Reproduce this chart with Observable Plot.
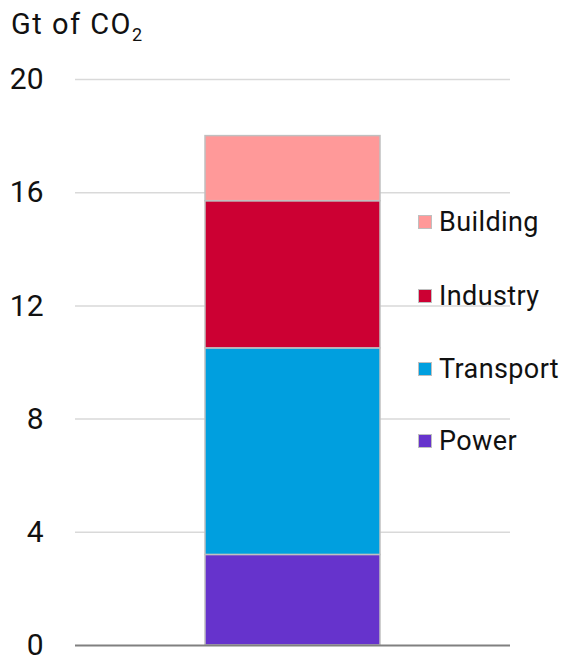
<!DOCTYPE html>
<html>
<head>
<meta charset="utf-8">
<script src="https://cdn.jsdelivr.net/npm/d3@7"></script>
<script src="https://cdn.jsdelivr.net/npm/@observablehq/plot@0.6"></script>
<style>
  body { margin: 0; background: #fff; font-family: Roboto, "Liberation Sans", sans-serif; }
  #wrap { position: relative; width: 569px; height: 657px; overflow: hidden; }
  #title { position: absolute; left: 11px; top: 7px; font-size: 29px; letter-spacing: 1.5px; color: #111; white-space: nowrap; }
  #title sub { font-size: 18px; vertical-align: -7px; line-height: 0; }
  #legend { position: absolute; left: 418px; top: 0; }
  .item { position: absolute; left: 0; display: flex; align-items: center; white-space: nowrap; font-size: 27px; letter-spacing: 0.4px; color: #111; transform: translateY(-50%); }
  .sw { width: 12px; height: 12px; border: 1.5px solid #bfbfbf; margin-right: 7px; }
</style>
</head>
<body>
<div id="wrap">
  <div id="chart"></div>
  <div id="title">Gt of CO<sub>2</sub></div>
  <div id="legend"></div>
</div>
<script>
const categories = ["2020"];
const sectors = ["Power", "Transport", "Industry", "Building"];
const values = [3.2, 7.3, 5.2, 2.3];
const colors = ["#6633cc", "#009fdf", "#cc0033", "#ff9999"];
const yTicks = [0, 4, 8, 12, 16, 20];
const legendOrder = ["Building", "Industry", "Transport", "Power"];
const legendTops = [222, 296, 369, 441];

const data = sectors.map((s, i) => ({cat: categories[0], sector: s, value: values[i]}));

const chart = Plot.plot({
  width: 569,
  height: 657,
  marginTop: 79,
  marginBottom: 12,
  marginLeft: 75,
  marginRight: 59,
  style: {fontFamily: "Roboto, 'Liberation Sans', sans-serif", fontSize: "30px", color: "#111", background: "#fff", overflow: "visible"},
  x: {domain: categories, padding: 0.426, axis: null},
  y: {domain: [0, 20], ticks: yTicks, tickSize: 0, tickPadding: 32, label: null},
  color: {domain: sectors, range: colors},
  marks: [
    Plot.ruleY(yTicks.filter(d => d > 0), {stroke: "#d9d9d9", strokeWidth: 1.5}),
    Plot.barY(data, {x: "cat", y: "value", fill: "sector", order: sectors, stroke: "#c0c0c0", strokeWidth: 1.5}),
    Plot.ruleY([0], {stroke: "#808080", strokeWidth: 2})
  ]
});
document.getElementById("chart").appendChild(chart);

const legend = document.getElementById("legend");
legendOrder.forEach((s, i) => {
  const it = document.createElement("div");
  it.className = "item";
  it.style.top = legendTops[i] + "px";
  const sw = document.createElement("div");
  sw.className = "sw";
  sw.style.background = colors[sectors.indexOf(s)];
  const lb = document.createElement("span");
  lb.textContent = s;
  it.appendChild(sw); it.appendChild(lb);
  legend.appendChild(it);
});
</script>
</body>
</html>
